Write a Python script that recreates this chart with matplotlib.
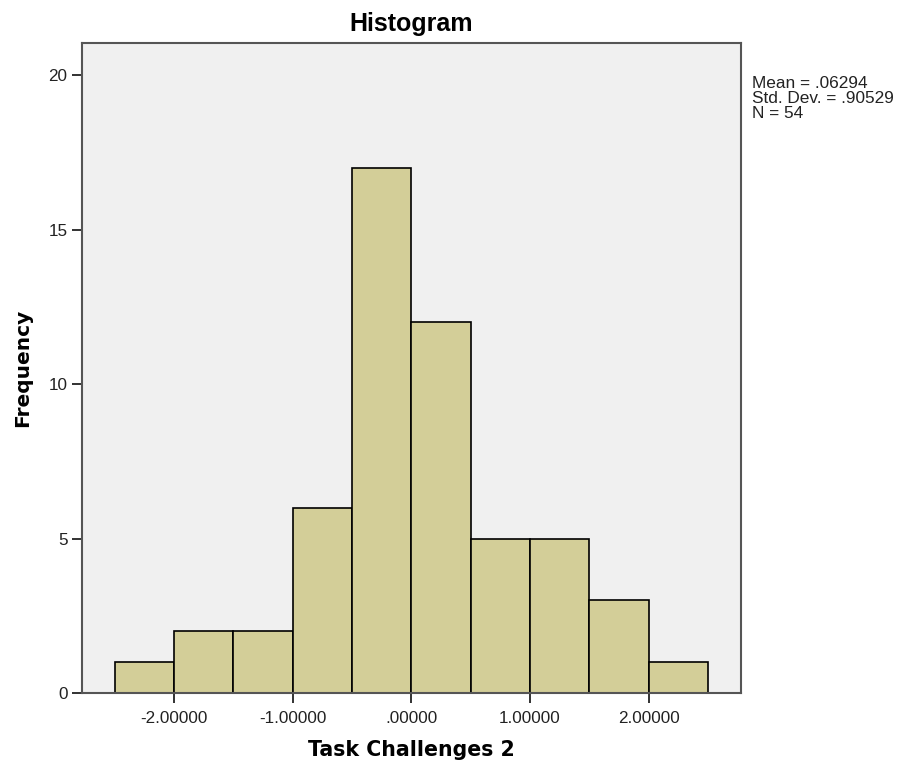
import numpy as np
import matplotlib.pyplot as plt

# bin edges and counts
bin_edges = [-2.5, -2.0, -1.5, -1.0, -0.5, 0.0, 0.5, 1.0, 1.5, 2.0, 2.5]
counts = [1, 2, 2, 6, 17, 12, 5, 5, 3, 1]
xticks = [-2.0, -1.0, 0.0, 1.0, 2.0]
xtick_labels = ["-2.00000", "-1.00000", ".00000", "1.00000", "2.00000"]
yticks = [0, 5, 10, 15, 20]
stats = ["Mean = .06294", "Std. Dev. = .90529", "N = 54"]

plt.rcParams['font.family'] = ['Liberation Sans', 'DejaVu Sans']

fig = plt.figure(figsize=(9.01, 7.71), dpi=100)
ax = fig.add_axes([0.091, 0.1012, 0.7314, 0.843])
ax.set_facecolor('#f0f0f0')

edges = np.array(bin_edges)
ax.bar(edges[:-1], counts, width=np.diff(edges), align='edge',
       color='#d3ce98', edgecolor='black', linewidth=1.2)

ax.set_xlim(-2.777, 2.778)
ax.set_ylim(0, 21.04)
ax.set_xticks(xticks)
ax.set_xticklabels(xtick_labels)
ax.set_yticks(yticks)
ax.tick_params(direction='out', length=7.5, width=1.3, labelsize=12.3,
               color='#222222', labelcolor='#222222')
ax.tick_params(axis='x', pad=5.5)
ax.tick_params(axis='y', pad=3)
for s in ax.spines.values():
    s.set_color('#555555')
    s.set_linewidth(1.5)

ax.set_title("Histogram", fontsize=18, fontweight='bold', pad=9)
ax.set_xlabel("Task Challenges 2", fontsize=14.8, fontweight='bold',
              family=['DejaVu Sans'], labelpad=10)
ax.set_ylabel("Frequency", fontsize=14.5, fontweight='bold',
              family=['DejaVu Sans'], labelpad=12)

fig.text(752 / 901, 1 - 76 / 771, "\n".join(stats), fontsize=12.4, va='top',
         ha='left', linespacing=1.02, color='#222222')

fig.savefig("out.png", dpi=100)
